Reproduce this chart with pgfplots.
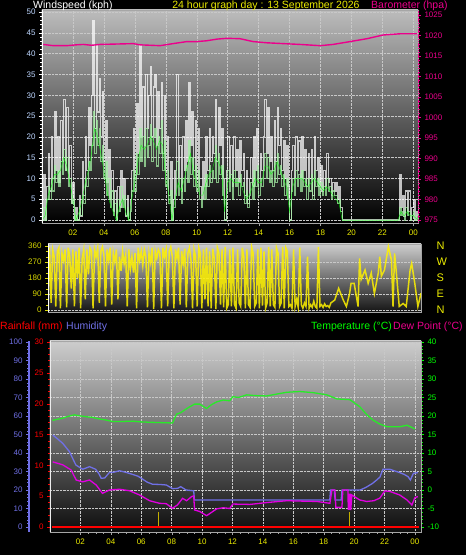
\documentclass[border=0pt]{standalone}
\usepackage{pgfplots}
\pgfplotsset{compat=1.18}
\usepackage{fontspec}
\setmainfont{Liberation Sans}
\definecolor{wslab}{RGB}{190,215,255}
\definecolor{bgtop}{RGB}{188,188,188}
\definecolor{bgtopb}{RGB}{205,205,205}
\definecolor{dirlab}{RGB}{215,215,0}
\definecolor{humblue}{RGB}{112,112,230}
\definecolor{tempgreen}{RGB}{40,235,40}
\definecolor{dewmag}{RGB}{225,0,225}
\definecolor{avggreen}{RGB}{165,240,165}
\definecolor{raingold}{RGB}{195,175,0}
\definecolor{ylab}{RGB}{235,235,0}
\definecolor{gridc}{RGB}{200,200,200}
\newcommand\tf{\fontsize{8bp}{9bp}\selectfont}
\newcommand\ttl{\fontsize{10.5bp}{11bp}\selectfont}
\pgfplotsset{base/.style={scale only axis, anchor=south west,
  /pgf/number format/assume math mode=true, /pgf/number format/1000 sep={},
  tick align=outside, major tick length=3bp, minor tick length=1.5bp, clip=true}}
\begin{document}
\begin{tikzpicture}
\fill[black] (0,0) rectangle (466bp,555bp);
% ---------------- Panel 1: wind speed ----------------
\begin{axis}[base, at={(42bp,332bp)}, width=376bp, height=213bp,
  xmin=0, xmax=24.3, ymin=-0.7, ymax=50.5,
  axis background/.style={shade, top color=bgtop, bottom color=black},
  axis line style={gray!70, line width=0.8pt}, tick pos=left,
  xtick={2,4,...,24}, xticklabels={02,04,06,08,10,12,14,16,18,20,22,00},
  ytick={0,5,...,50}, minor y tick num=4, minor x tick num=3,
  xticklabel style={ylab, font=\tf}, yticklabel style={wslab, font=\tf},
  xtick style={gray!70}, ytick style={white},
  grid=major, major grid style={densely dotted, gridc, line width=0.4pt}]
\addplot[const plot, white, opacity=0.72, line width=1.2pt] coordinates {
(0.0,0)(0.1,11)(0.2,0)(0.3,8)(0.4,16)(0.5,7)(0.6,20)(0.7,10)(0.8,26)(0.9,12)
(1.0,20)(1.1,9)(1.2,24)(1.3,14)(1.4,29)(1.5,12)(1.6,27)(1.7,10)(1.8,18)(1.9,4)
(2.0,9)(2.1,0)(2.2,3)(2.3,0)(2.4,6)(2.5,1)(2.6,14)(2.7,6)(2.8,20)(2.9,12)
(3.0,27)(3.1,18)(3.2,30)(3.3,48)(3.4,22)(3.5,42)(3.6,26)(3.7,34)(3.8,20)(3.9,31)
(4.0,14)(4.1,24)(4.2,9)(4.3,17)(4.4,5)(4.5,12)(4.6,2)(4.7,7)(4.8,0)(4.9,8)
(5.0,3)(5.1,12)(5.2,5)(5.3,10)(5.4,1)(5.5,6)(5.6,0)(5.7,5)(5.8,12)(5.9,22)
(6.0,10)(6.1,28)(6.2,16)(6.3,42)(6.4,20)(6.5,32)(6.6,18)(6.7,35)(6.8,22)(6.9,30)
(7.0,37)(7.1,20)(7.2,32)(7.3,35)(7.4,18)(7.5,31)(7.6,22)(7.7,33)(7.8,16)(7.9,30)
(8.0,12)(8.1,20)(8.2,6)(8.3,14)(8.4,0)(8.5,5)(8.6,12)(8.7,35)(8.8,10)(8.9,18)
(9.0,7)(9.1,20)(9.2,12)(9.3,24)(9.4,14)(9.5,33)(9.6,18)(9.7,26)(9.8,12)(9.9,24)
(10.0,10)(10.1,22)(10.2,8)(10.3,5)(10.4,14)(10.5,8)(10.6,20)(10.7,12)(10.8,22)(10.9,14)
(11.0,20)(11.1,16)(11.2,29)(11.3,14)(11.4,27)(11.5,18)(11.6,22)(11.7,10)(11.8,0)(11.9,12)
(12.0,20)(12.1,10)(12.2,18)(12.3,8)(12.4,20)(12.5,12)(12.6,17)(12.7,9)(12.8,19)(12.9,12)
(13.0,16)(13.1,6)(13.2,12)(13.3,4)(13.4,10)(13.5,15)(13.6,8)(13.7,20)(13.8,12)(13.9,22)
(14.0,10)(14.1,16)(14.2,12)(14.3,20)(14.4,29)(14.5,16)(14.6,27)(14.7,14)(14.8,20)(14.9,12)
(15.0,24)(15.1,14)(15.2,27)(15.3,18)(15.4,22)(15.5,12)(15.6,19)(15.7,10)(15.8,18)(15.9,8)
(16.0,0)(16.1,12)(16.2,18)(16.3,10)(16.4,20)(16.5,12)(16.6,19)(16.7,10)(16.8,20)(16.9,12)
(17.0,17)(17.1,8)(17.2,16)(17.3,10)(17.4,17)(17.5,6)(17.6,20)(17.7,12)(17.8,15)(17.9,8)
(18.0,13)(18.1,7)(18.2,12)(18.3,8)(18.4,16)(18.5,9)(18.6,10)(18.7,6)(18.8,9)(18.9,7)
(19.0,9)(19.1,5)(19.2,8)(19.3,3)(19.4,0)(23.0,0)(23.1,11)(23.2,3)(23.3,6)(23.4,1)
(23.5,7)(23.6,2)(23.7,7)(23.8,0)(23.9,3)(24.0,5)(24.1,0)(24.2,2)(24.3,1)};
\addplot[const plot, avggreen, opacity=0.75, line width=1.1pt] coordinates {
(0.0,0)(0.1,3)(0.2,0)(0.3,5)(0.4,8)(0.5,5)(0.6,10)(0.7,7)(0.8,13)(0.9,9)
(1.0,12)(1.1,8)(1.2,14)(1.3,11)(1.4,17)(1.5,12)(1.6,15)(1.7,8)(1.8,10)(1.9,4)
(2.0,5)(2.1,0)(2.2,1)(2.3,0)(2.4,3)(2.5,1)(2.6,6)(2.7,4)(2.8,10)(2.9,8)
(3.0,14)(3.1,12)(3.2,18)(3.3,26)(3.4,16)(3.5,24)(3.6,18)(3.7,22)(3.8,14)(3.9,18)
(4.0,10)(4.1,14)(4.2,6)(4.3,10)(4.4,3)(4.5,7)(4.6,1)(4.7,4)(4.8,0)(4.9,5)
(5.0,2)(5.1,8)(5.2,3)(5.3,6)(5.4,1)(5.5,3)(5.6,0)(5.7,2)(5.8,7)(5.9,12)
(6.0,7)(6.1,16)(6.2,11)(6.3,22)(6.4,14)(6.5,20)(6.6,13)(6.7,22)(6.8,15)(6.9,18)
(7.0,23)(7.1,14)(7.2,20)(7.3,22)(7.4,13)(7.5,20)(7.6,16)(7.7,24)(7.8,12)(7.9,19)
(8.0,8)(8.1,12)(8.2,4)(8.3,7)(8.4,0)(8.5,3)(8.6,6)(8.7,14)(8.8,6)(8.9,10)
(9.0,4)(9.1,10)(9.2,7)(9.3,13)(9.4,9)(9.5,19)(9.6,11)(9.7,15)(9.8,8)(9.9,13)
(10.0,7)(10.1,12)(10.2,5)(10.3,3)(10.4,8)(10.5,5)(10.6,11)(10.7,8)(10.8,13)(10.9,9)
(11.0,12)(11.1,10)(11.2,18)(11.3,9)(11.4,16)(11.5,11)(11.6,13)(11.7,6)(11.8,0)(11.9,7)
(12.0,12)(12.1,7)(12.2,11)(12.3,5)(12.4,12)(12.5,8)(12.6,10)(12.7,6)(12.8,11)(12.9,8)
(13.0,9)(13.1,4)(13.2,7)(13.3,3)(13.4,6)(13.5,9)(13.6,5)(13.7,12)(13.8,8)(13.9,13)
(14.0,6)(14.1,10)(14.2,8)(14.3,12)(14.4,16)(14.5,10)(14.6,15)(14.7,9)(14.8,12)(14.9,8)
(15.0,14)(15.1,9)(15.2,16)(15.3,11)(15.4,13)(15.5,8)(15.6,11)(15.7,6)(15.8,10)(15.9,5)
(16.0,0)(16.1,7)(16.2,10)(16.3,6)(16.4,12)(16.5,8)(16.6,11)(16.7,7)(16.8,12)(16.9,8)
(17.0,10)(17.1,5)(17.2,10)(17.3,7)(17.4,11)(17.5,5)(17.6,12)(17.7,8)(17.8,10)(17.9,6)
(18.0,9)(18.1,6)(18.2,8)(18.3,6)(18.4,10)(18.5,7)(18.6,8)(18.7,5)(18.8,7)(18.9,6)
(19.0,6)(19.1,4)(19.2,5)(19.3,2)(19.4,0)(23.0,0)(23.1,3)(23.2,1)(23.3,2)(23.4,0)
(23.5,3)(23.6,1)(23.7,2)(23.8,0)(23.9,1)(24.0,2)(24.1,0)(24.2,1)(24.3,0)};
\addplot[green, opacity=0.7, line width=0.5pt] coordinates {
(0.0,0)(0.2,1)(0.4,6)(0.6,8)(0.8,11)(1.0,11)(1.2,12)(1.4,15)(1.6,13)(1.8,9)
(2.0,5)(2.2,0)(2.4,2)(2.6,5)(2.8,9)(3.0,12)(3.2,16)(3.4,22)(3.6,20)(3.8,16)
(4.0,12)(4.2,7)(4.4,4)(4.6,2)(4.8,0)(5.0,3)(5.2,5)(5.4,2)(5.6,0)(5.8,5)
(6.0,9)(6.2,14)(6.4,18)(6.6,17)(6.8,18)(7.0,20)(7.2,19)(7.4,17)(7.6,19)(7.8,18)
(8.0,10)(8.2,6)(8.4,0)(8.6,5)(8.8,9)(9.0,7)(9.2,10)(9.4,13)(9.6,16)(9.8,11)
(10.0,9)(10.2,6)(10.4,6)(10.6,9)(10.8,11)(11.0,12)(11.2,15)(11.4,14)(11.6,12)(11.8,2)
(12.0,9)(12.2,10)(12.4,9)(12.6,9)(12.8,9)(13.0,7)(13.2,5)(13.4,6)(13.6,8)(13.8,10)
(14.0,9)(14.2,9)(14.4,13)(14.6,13)(14.8,11)(15.0,12)(15.2,14)(15.4,12)(15.6,10)(15.8,8)
(16.0,2)(16.2,8)(16.4,10)(16.6,10)(16.8,10)(17.0,9)(17.2,8)(17.4,9)(17.6,10)(17.8,9)
(18.0,8)(18.2,7)(18.4,8)(18.6,7)(18.8,6)(19.0,5)(19.2,4)(19.4,0)(23.0,0)(23.2,2)
(23.4,1)(23.6,2)(23.8,1)(24.0,1)(24.3,0)};
\draw[white, line width=1.2pt] (rel axis cs:0,0) -- (rel axis cs:0,1);
\end{axis}
\begin{axis}[base, at={(42bp,332bp)}, width=376bp, height=213bp,
  xmin=0, xmax=24.3, ymin=974.27, ymax=1026.2,
  axis y line*=right, axis x line=none,
  ytick={975,980,...,1025}, minor y tick num=4,
  y axis line style={magenta, densely dotted, line width=0.8pt, -},
  ytick style={magenta}, yticklabel style={magenta, font=\tf}]
\addplot[magenta, line width=1.4pt] coordinates {
(0.08,1017.8)(0.73,1017.5)(1.6,1017.5)(2.2,1017.7)(2.67,1017.8)(3.2,1017.6)(3.75,1017.8)
(4.8,1017.9)(5.9,1018.0)(6.34,1017.7)(7.0,1017.6)(7.63,1017.5)(8.47,1018.0)(9.37,1018.5)
(10.0,1018.5)(10.66,1018.7)(11.3,1019.1)(11.96,1019.3)(12.8,1019.2)(13.64,1018.5)
(14.54,1018.2)(15.6,1018.0)(16.68,1017.8)(17.97,1017.5)(18.81,1017.8)(19.91,1018.5)
(21.0,1019.2)(22.04,1020.1)(23.14,1020.4)(24.24,1020.4)};
\end{axis}
% ---------------- Panel 2: wind direction ----------------
\begin{axis}[base, at={(48bp,243bp)}, width=373bp, height=68bp,
  xmin=0, xmax=24, ymin=-11, ymax=371,
  axis background/.style={shade, top color=bgtopb, bottom color=black!92},
  axis line style={gray!70, line width=0.8pt}, tick pos=left,
  xtick=\empty, ytick={0,90,180,270,360}, minor y tick num=2,
  yticklabel style={dirlab, font=\tf}, ytick style={dirlab},
  ymajorgrids, major grid style={densely dotted, gridc, line width=0.4pt}]
\addplot[yellow, opacity=0.85, line width=1.5pt] coordinates {
(0.0,30)(0.1,350)(0.2,40)(0.3,340)(0.4,300)(0.5,20)(0.6,330)(0.7,350)(0.8,10)(0.9,320)
(1.0,280)(1.1,340)(1.2,15)(1.3,350)(1.4,300)(1.5,120)(1.6,340)(1.7,20)(1.8,330)(1.9,180)
(2.0,350)(2.1,10)(2.2,290)(2.3,340)(2.4,60)(2.5,340)(2.6,200)(2.7,350)(2.8,330)(2.9,10)
(3.0,340)(3.1,300)(3.2,350)(3.3,40)(3.4,330)(3.5,355)(3.6,310)(3.7,20)(3.8,340)(3.9,280)
(4.0,350)(4.1,30)(4.2,320)(4.3,270)(4.4,340)(4.5,60)(4.6,300)(4.7,220)(4.8,330)(4.9,260)
(5.0,310)(5.1,20)(5.2,340)(5.3,230)(5.4,300)(5.5,210)(5.6,320)(5.7,10)(5.8,350)(5.9,280)
(6.0,330)(6.1,250)(6.2,340)(6.3,300)(6.4,15)(6.5,320)(6.6,270)(6.7,350)(6.8,5)(6.9,330)
(7.0,290)(7.1,340)(7.2,320)(7.3,10)(7.4,350)(7.5,300)(7.6,340)(7.7,20)(7.8,330)(7.9,355)
(8.0,300)(8.1,10)(8.2,340)(8.3,290)(8.4,350)(8.5,30)(8.6,330)(8.7,260)(8.8,345)(8.9,15)
(9.0,320)(9.1,350)(9.2,280)(9.3,10)(9.4,340)(9.5,300)(9.6,20)(9.7,350)(9.8,320)(9.9,10)
(10.0,340)(10.1,60)(10.2,350)(10.3,20)(10.4,330)(10.5,10)(10.6,345)(10.7,290)(10.8,5)(10.9,350)
(11.0,320)(11.1,30)(11.2,340)(11.3,15)(11.4,355)(11.5,10)(11.6,30)(11.7,340)(11.8,20)(11.9,350)
(12.0,30)(12.1,10)(12.2,340)(12.3,40)(12.4,20)(12.5,350)(12.6,300)(12.7,10)(12.8,340)(12.9,30)
(13.0,15)(13.1,355)(13.2,320)(13.3,20)(13.4,40)(13.5,340)(13.6,10)(13.7,350)(13.8,25)(13.9,330)
(14.0,10)(14.1,40)(14.2,355)(14.3,20)(14.4,340)(14.5,30)(14.6,15)(14.7,350)(14.8,320)(14.9,20)
(15.0,40)(15.1,355)(15.2,10)(15.3,350)(15.4,330)(15.5,20)(15.6,30)(15.7,10)(15.8,340)(15.9,20)
(16.0,60)(16.1,15)(16.2,350)(16.3,30)(16.4,10)(16.5,40)(16.6,20)(16.7,300)(16.8,10)(16.9,30)
(17.0,15)(17.1,50)(17.2,20)(17.3,10)(17.4,355)(17.5,20)(17.6,30)(17.7,15)(17.8,35)(17.9,20)
(18.0,25)(18.1,15)(18.2,40)(18.45,56)(18.7,122)(19.0,56)(19.2,20)(19.4,90)(19.5,150)(19.7,150)
(19.95,20)(20.05,290)(20.15,172)(20.4,225)(20.6,150)(20.8,208)(21.0,93)(21.25,208)(21.35,300)(21.45,190)
(21.65,225)(21.9,356)(22.1,281)(22.2,20)(22.3,318)(22.4,225)(22.6,20)(22.85,37)(23.05,20)(23.3,225)
(23.4,262)(23.6,150)(23.8,20)(24.0,94)};
\draw[white, line width=1.2pt] (rel axis cs:0,0) -- (rel axis cs:0,1);
\end{axis}
\begin{axis}[base, at={(48bp,243bp)}, width=373bp, height=68bp,
  xmin=0, xmax=24, ymin=-11, ymax=371,
  axis y line*=right, axis x line=none, y axis line style={draw=none},
  ytick={0,90,180,270,360}, yticklabels={N,E,S,W,N},
  ytick style={draw=none},
  yticklabel style={ylab, font=\fontsize{11bp}{12bp}\selectfont, xshift=9bp}]
\addplot[draw=none] coordinates {(0,0)};
\end{axis}
% ---------------- Panel 3: rain / humidity / temperature ----------------
\begin{axis}[base, at={(50bp,23bp)}, width=371bp, height=191bp,
  xmin=0, xmax=24.4, ymin=-0.81, ymax=30.15,
  axis background/.style={shade, top color=bgtopb, bottom color=black!95},
  axis line style={gray!70, line width=0.8pt}, tick pos=left,
  xtick={2,4,...,24}, xticklabels={02,04,06,08,10,12,14,16,18,20,22,00},
  minor x tick num=3,
  ytick={0,5,...,30}, minor y tick num=4,
  xticklabel style={ylab, font=\tf}, yticklabel style={red, font=\tf},
  xtick style={gray!70}, ytick style={red},
  xmajorgrids, major grid style={densely dotted, gridc, line width=0.4pt},
  extra y ticks={3,6,...,30}, extra y tick labels={},
  extra y tick style={ymajorgrids, major tick length=0pt}]
\addplot[raingold, line width=1.5pt, ycomb] coordinates {(7.15,2.5)(19.7,2.5)};
\addplot[red, line width=2pt] coordinates {(0.15,0)(24.25,0)};
\draw[white!85!gray, line width=1.2pt] (rel axis cs:0,0) -- (rel axis cs:0,1);
\end{axis}
\begin{axis}[base, at={(29bp,23bp)}, width=1bp, height=191bp,
  xmin=0, xmax=1, ymin=-2.7, ymax=100.5,
  axis y line*=left, axis x line=none,
  y axis line style={humblue, line width=2pt, -},
  ytick={0,10,...,100}, minor y tick num=4,
  ytick style={humblue}, yticklabel style={humblue, font=\tf}]
\addplot[draw=none] coordinates {(0,0)};
\end{axis}
\begin{axis}[base, at={(50bp,23bp)}, width=371bp, height=191bp,
  xmin=0, xmax=24.4, ymin=-2.7, ymax=100.5, hide axis]
\addplot[humblue, line width=1.3pt] coordinates {
(0.18,49.7)(0.5,47.6)(0.84,45.2)(1.28,40.7)(1.7,33.5)(2.15,31.2)(2.6,32.6)(3.0,31.2)(3.2,29)
(3.37,26.3)(3.6,26.5)(3.9,29.4)(4.2,29.6)(4.57,30.4)(5.0,29.5)(5.4,28.5)(5.8,27.4)(6.1,25.8)
(6.4,24.2)(6.75,23.1)(7.2,23.0)(7.65,22.7)(8.07,20.7)(8.4,20.9)(8.6,21.8)(8.95,20)(9.4,19.6)
(9.45,19.6)(9.5,14.6)(18.4,14.6)(18.45,20)(18.7,20)(18.75,14.6)(19.15,14.6)(19.2,20)(20.4,20)
(20.8,21.5)(21.2,23.5)(21.5,25.5)(21.7,27)(21.9,31.2)(22.35,31.2)(22.7,30.2)(23.0,29.4)(23.3,28.4)
(23.55,27.2)(23.7,25.4)(23.9,29)(24.2,29.4)};
\end{axis}
\begin{axis}[base, at={(50bp,23bp)}, width=371bp, height=191bp,
  xmin=0, xmax=24.4, ymin=-11.35, ymax=40.25,
  axis y line*=right, axis x line=none,
  y axis line style={gray!70, line width=0.8pt, -},
  ytick={-10,-5,...,40}, minor y tick num=4,
  ytick style={green}, yticklabel style={green, font=\tf}]
\addplot[tempgreen, line width=1.3pt] coordinates {
(0.16,18.8)(0.82,19.4)(1.2,19.9)(1.6,20.3)(2.0,20.0)(2.38,19.8)(2.8,19.6)(3.25,19.2)(3.7,18.9)
(4.11,18.5)(4.7,18.5)(5.43,18.6)(6.0,18.4)(6.55,18.3)(7.3,18.2)(8.06,18.1)(8.33,20.5)(8.6,20.9)
(8.85,21.6)(9.2,22.5)(9.51,23.2)(9.84,23.2)(10.3,22)(10.6,23.0)(10.96,23.8)(11.4,24.3)(11.82,24.1)
(12.02,25.2)(12.4,25.0)(12.94,25.7)(13.5,25.5)(14.25,25.4)(14.9,25.9)(15.57,26.4)(16.43,26.6)
(17.3,26.3)(18.21,25.7)(18.87,24.6)(19.72,24.4)(20.37,22.5)(20.8,20.5)(21.23,18.9)(21.7,17.8)
(22.16,17.1)(23.02,17.1)(23.48,17.5)(24.0,16.5)};
\addplot[dewmag, line width=1.3pt] coordinates {
(0.18,7.6)(0.84,6.8)(1.39,5.4)(1.72,2.7)(2.15,2.2)(2.6,2.7)(3.04,1.35)(3.45,-0.9)(3.91,0)(4.57,0.2)
(5.23,-0.2)(5.89,-1.35)(6.55,-2.9)(7.21,-3.6)(7.65,-3.7)(8.05,-4.95)(8.38,-4.05)(8.72,-2.25)
(8.98,-2.9)(9.31,-1.8)(9.45,-1.6)(9.51,-5.4)(9.84,-5.8)(10.3,-6.95)(10.96,-5.1)(11.4,-4.8)(11.82,-5)
(12.02,-3.8)(13.14,-3.9)(14.25,-3.4)(15.57,-2.9)(16.5,-3.0)(17.55,-3.1)(18.41,-3.6)(18.54,0)(18.74,0)
(18.8,-4.7)(19.2,-4.7)(19.26,0)(19.59,0)(19.62,-5.4)(19.66,-1)(19.7,-5.4)(19.74,-1)(19.78,-5.4)(19.85,-1.35)(20.37,-2.7)(20.83,-3.1)
(21.3,-2.9)(21.69,-2.2)(22.02,-0.25)(22.36,-0.4)(23.0,-1.35)(23.48,-2.7)(23.8,-4.05)(24.0,-2.05)(24.2,-1.8)};
\end{axis}
% ---------------- Titles ----------------
\node[anchor=west, white, font=\ttl, inner sep=0] at (33bp,549bp) {Windspeed (kph)};
\node[ylab, font=\ttl, inner sep=0] at (266bp,549bp) {24 hour graph day : 13 September 2026};
\node[anchor=west, magenta, font=\ttl, inner sep=0] at (371bp,549bp) {Barometer (hpa)};
\node[anchor=west, red, font=\ttl, inner sep=0] at (0bp,228bp) {Rainfall (mm)};
\node[anchor=west, humblue, font=\ttl, inner sep=0] at (66bp,228bp) {Humidity};
\node[anchor=west, green, font=\ttl, inner sep=0] at (311bp,228bp) {Temperature (°C)};
\node[anchor=west, magenta, font=\ttl, inner sep=0] at (393bp,228bp) {Dew Point (°C)};
\pgfresetboundingbox
\path[use as bounding box] (0,0) rectangle (466bp,555bp);
\end{tikzpicture}
\end{document}
